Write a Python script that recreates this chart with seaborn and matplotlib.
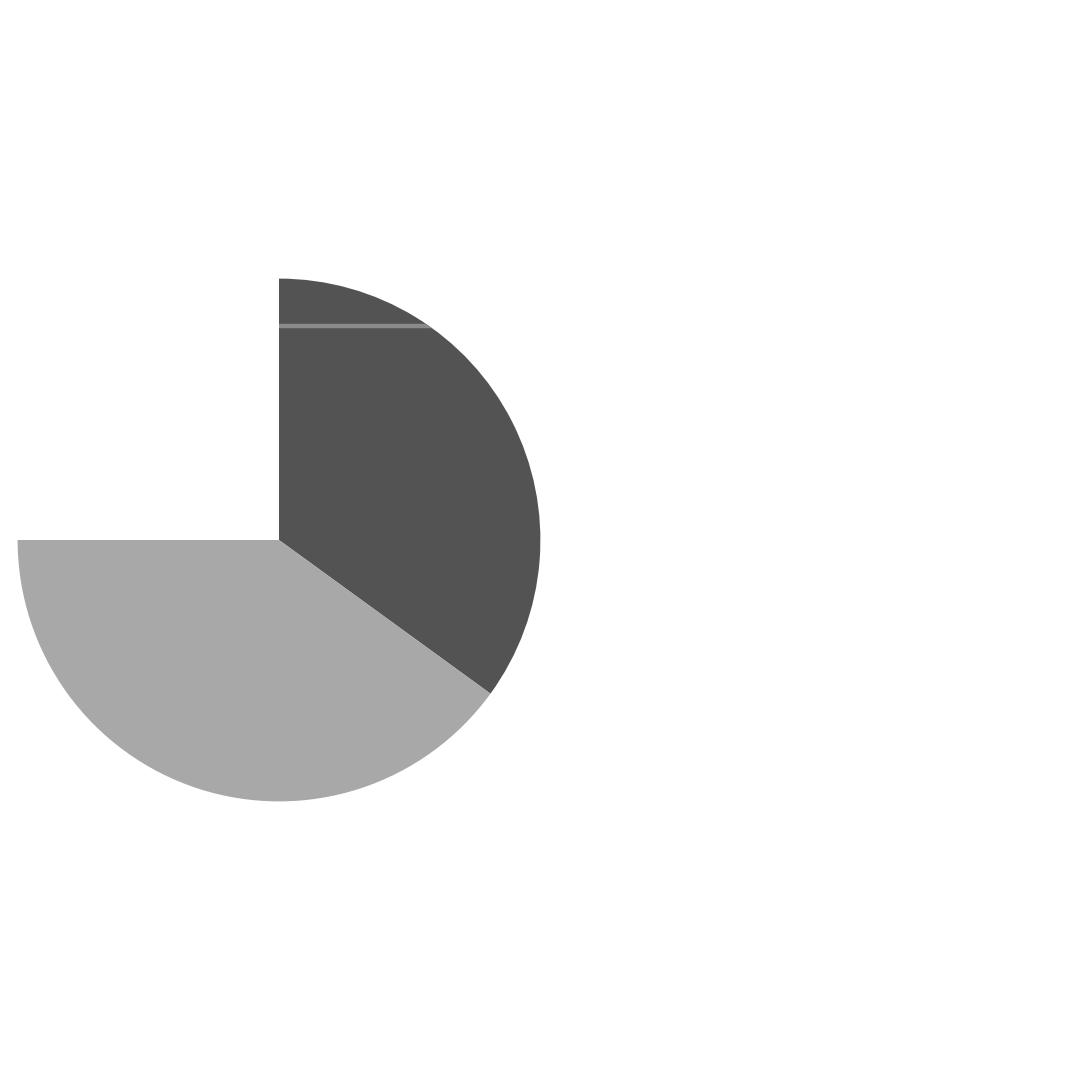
import matplotlib
matplotlib.use("Agg")
import matplotlib.pyplot as plt
import seaborn as sns
import numpy as np

# 数据：两个扇区（剩余 25% 为空白）
slice_labels = ["A", "B"]
slice_shares = [0.35, 0.40]
slice_colors = ["#535353", "#a8a8a8"]

# 扇区内的浅色横线（相对半径高度）
line_level = 0.819
line_color = "#8a8a8a"

sns.set_theme(style="white")

fig = plt.figure(figsize=(10.8, 10.8), dpi=100)
r_px = 261.4
ax = fig.add_axes([(279 - r_px) / 1080, (540 - r_px) / 1080, 2 * r_px / 1080, 2 * r_px / 1080])

wedges, _ = ax.pie(slice_shares, colors=slice_colors, startangle=90,
                   counterclock=False, normalize=False, radius=1,
                   wedgeprops=dict(linewidth=0))

# 横线从圆心 x 到圆弧边，裁剪到深色扇区内
x_end = np.sqrt(1 - line_level ** 2)
hl = ax.hlines(line_level, 0, x_end + 0.05, colors=line_color, linewidth=3.2)
hl.set_clip_path(wedges[0])

ax.set_xlim(-1, 1)
ax.set_ylim(-1, 1)
ax.set_aspect("equal")
ax.axis("off")

fig.savefig("out.png", dpi=100, facecolor="white")
